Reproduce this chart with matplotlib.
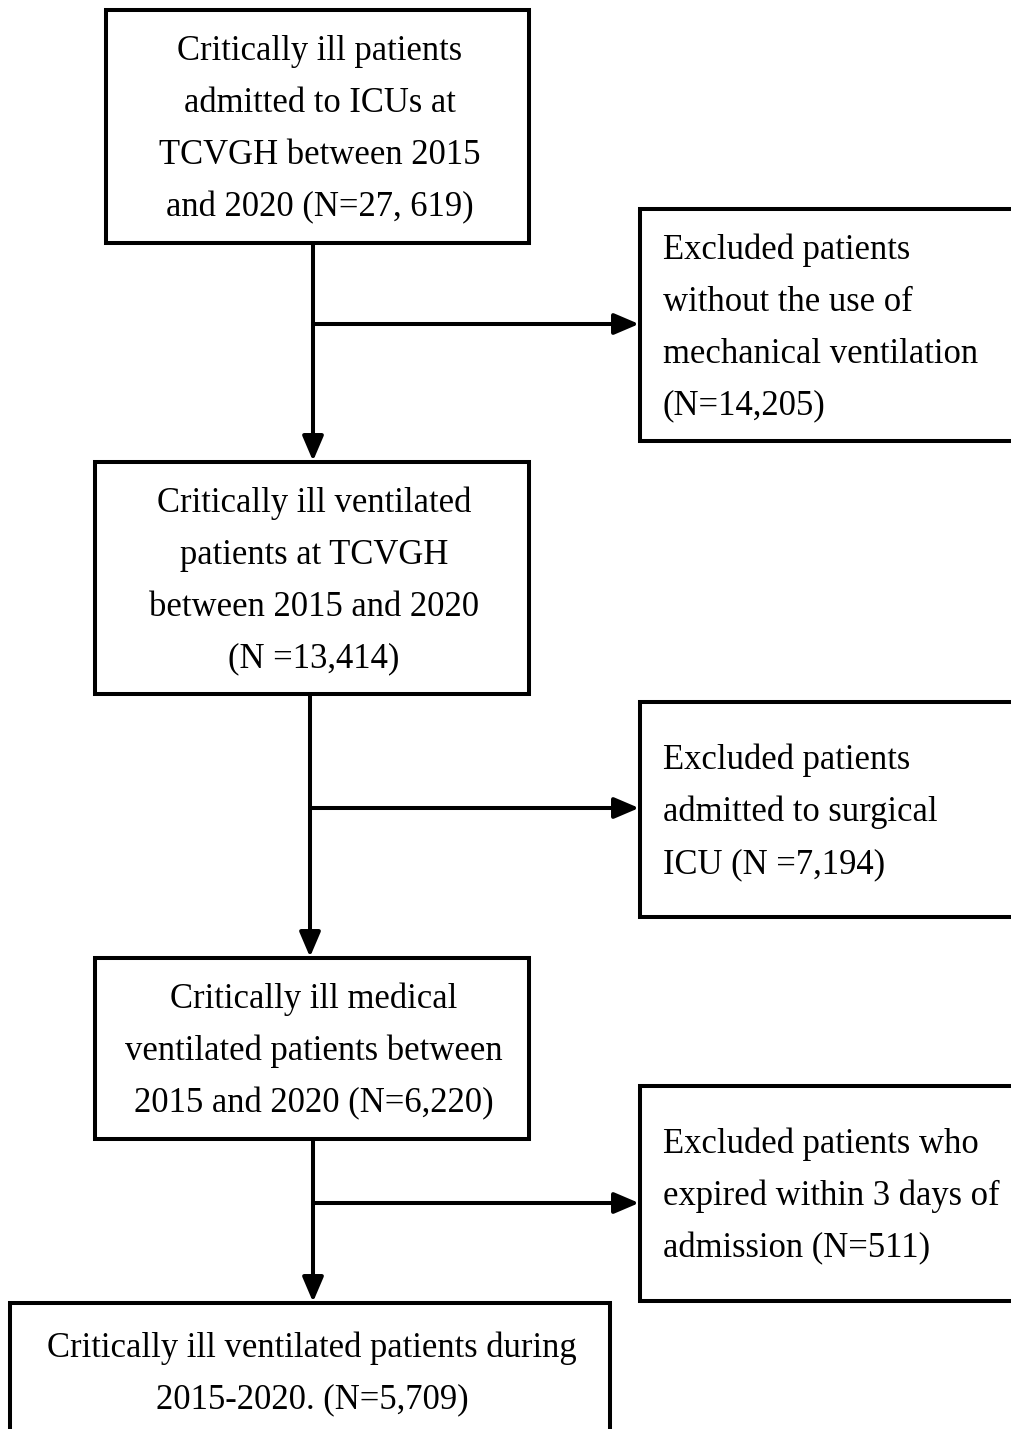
import matplotlib.pyplot as plt
from matplotlib.patches import Rectangle

# main flow boxes (text lines)
main_steps = [
    ["Critically ill patients", "admitted to ICUs at", "TCVGH between 2015", "and 2020 (N=27, 619)"],
    ["Critically ill ventilated", "patients at TCVGH", "between 2015 and 2020", "(N =13,414)"],
    ["Critically ill medical", "ventilated patients between", "2015 and 2020 (N=6,220)"],
    ["Critically ill ventilated patients during", "2015-2020. (N=5,709)"],
]
# exclusion boxes
exclusions = [
    ["Excluded patients", "without the use of", "mechanical ventilation", "(N=14,205)"],
    ["Excluded patients", "admitted to surgical", "ICU (N =7,194)"],
    ["Excluded patients who", "expired within 3 days of", "admission (N=511)"],
]

# layout in pixels (x0, y0, x1, y1)
main_boxes = [(106, 10, 529, 243), (95, 462, 529, 694), (95, 958, 529, 1139), (10, 1303, 610, 1439)]
excl_boxes = [(640, 209, 1030, 441), (640, 702, 1030, 917), (640, 1086, 1030, 1301)]
trunk_x = [313, 310, 313]
branch_y = [324, 808, 1203]

W, H = 1012, 1429
LINE = 52
LW = 2.9
FS = 24.9

plt.rcParams['font.family'] = ['Liberation Serif', 'DejaVu Serif']

fig = plt.figure(figsize=(W / 100, H / 100), dpi=100)
ax = fig.add_axes([0, 0, 1, 1])
ax.set_xlim(0, W)
ax.set_ylim(H, 0)
ax.axis('off')


def draw_box(box, lines, align):
    x0, y0, x1, y1 = box
    ax.add_patch(Rectangle((x0, y0), x1 - x0, y1 - y0, facecolor='white',
                           edgecolor='black', linewidth=LW, zorder=2))
    yc = (y0 + y1) / 2 + 3
    n = len(lines)
    for i, t in enumerate(lines):
        y = yc + (i - (n - 1) / 2) * LINE
        if align == 'center':
            ax.text((x0 + x1) / 2 + 2, y, t, ha='center', va='center', fontsize=FS, zorder=3)
        else:
            ax.text(x0 + 23, y, t, ha='left', va='center', fontsize=FS, zorder=3)


def arrow(x0, y0, x1, y1):
    ax.annotate('', xy=(x1, y1), xytext=(x0, y0),
                arrowprops=dict(arrowstyle='-|>,head_length=0.75,head_width=0.32',
                                lw=LW, color='black', shrinkA=0, shrinkB=0,
                                mutation_scale=20), zorder=1)


for box, lines in zip(main_boxes, main_steps):
    draw_box(box, lines, 'center')
for box, lines in zip(excl_boxes, exclusions):
    draw_box(box, lines, 'left')

for i in range(3):
    x = trunk_x[i]
    top = main_boxes[i][3]
    bottom = main_boxes[i + 1][1]
    arrow(x, top, x, bottom - 1)
    arrow(x, branch_y[i], excl_boxes[i][0] - 1, branch_y[i])

fig.savefig('out.png', dpi=100, facecolor='white')
